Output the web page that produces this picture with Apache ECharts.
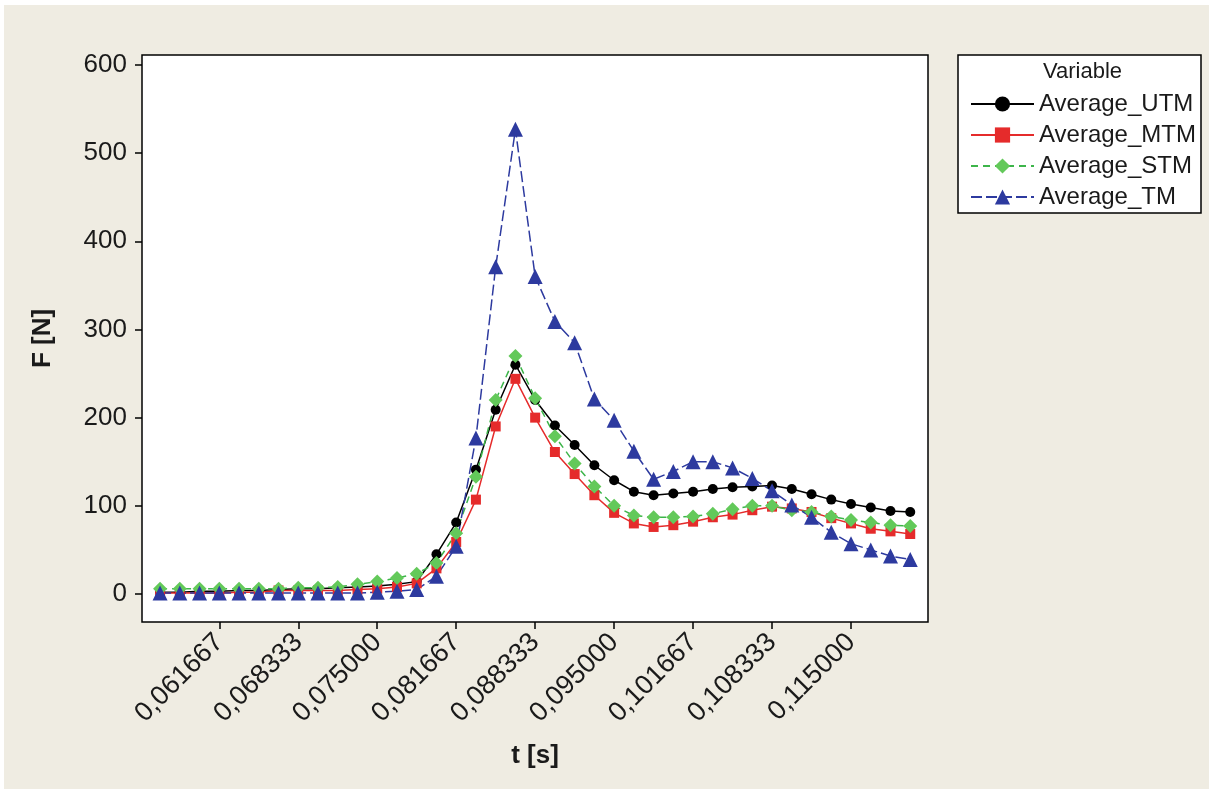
<!DOCTYPE html>
<html>
<head>
<meta charset="utf-8">
<script src="https://cdn.jsdelivr.net/npm/echarts@6/dist/echarts.min.js"></script>
<style>
  html, body { margin: 0; padding: 0; background: #ffffff; }
  #wrap { position: relative; width: 1213px; height: 793px; overflow: hidden; background: #ffffff; }
  #beige { position: absolute; left: 4px; top: 5px; width: 1205px; height: 784px; background: #EFECE2; }
  #chart { position: absolute; left: 0; top: 0; width: 1213px; height: 793px; }
</style>
</head>
<body>
<div id="wrap">
  <div id="beige"></div>
  <div id="chart"></div>
</div>
<script>
// ---- data ----
const timeS = [0.056667, 0.058333, 0.060000, 0.061667, 0.063333, 0.065000, 0.066667, 0.068333,
  0.070000, 0.071667, 0.073333, 0.075000, 0.076667, 0.078333, 0.080000, 0.081667, 0.083333,
  0.085000, 0.086667, 0.088333, 0.090000, 0.091667, 0.093333, 0.095000, 0.096667, 0.098333,
  0.100000, 0.101667, 0.103333, 0.105000, 0.106667, 0.108333, 0.110000, 0.111667, 0.113333,
  0.115000, 0.116667, 0.118333, 0.120000];

const averageUTM = [2, 2, 3, 3, 4, 4, 5, 6, 6, 7, 8, 9, 11, 14, 45, 81, 141, 209, 260, 220,
  191, 169, 146, 129, 116, 112, 114, 116, 119, 121, 122, 123, 119, 113, 107, 102, 98, 94, 93];

const averageMTM = [1, 1, 1, 1, 2, 2, 4, 4, 4, 4, 5, 6, 8, 12, 29, 59, 107, 190, 244, 200,
  161, 136, 112, 92, 80, 76, 78, 82, 87, 90, 95, 99, 97, 93, 86, 80, 74, 71, 68];

const averageSTM = [6, 6, 6, 6, 6, 6, 6, 7, 7, 8, 11, 14, 18, 23, 35, 69, 133, 220, 270, 222,
  179, 148, 122, 100, 89, 87, 87, 88, 91, 96, 100, 100, 95, 93, 88, 84, 81, 78, 77];

const averageTM = [1, 1, 1, 1, 1, 1, 1, 1, 1, 1, 1, 2, 3, 5, 20, 54, 177, 371, 527, 360,
  309, 285, 221, 197, 162, 130, 139, 150, 150, 143, 131, 117, 101, 87, 70, 57, 50, 43, 39];

const xTickValues = [0.061667, 0.068333, 0.075000, 0.081667, 0.088333, 0.095000, 0.101667, 0.108333, 0.115000];
const yTickValues = [0, 100, 200, 300, 400, 500, 600];

const seriesNames = ['Average_UTM', 'Average_MTM', 'Average_STM', 'Average_TM'];
// ------------------------------------------------

const FONT = 'Liberation Sans, Arial, sans-serif';
const pairs = arr => timeS.map((t, i) => [t, arr[i]]);

const chart = echarts.init(document.getElementById('chart'), null, { renderer: 'canvas' });

const option = {
  backgroundColor: 'transparent',
  animation: false,
  grid: {
    left: 142, right: 285, top: 55, bottom: 171,
    show: true, backgroundColor: '#ffffff', borderColor: '#000000', borderWidth: 1.5
  },
  xAxis: {
    type: 'value',
    min: 0.05514, max: 0.1215,
    name: 't [s]', nameLocation: 'middle', nameGap: 121,
    nameTextStyle: { fontFamily: FONT, fontSize: 26, fontWeight: 'bold', color: '#1a1a1a' },
    axisLine: { show: false, onZero: false },
    splitLine: { show: false },
    axisTick: { show: true, length: 7, lineStyle: { color: '#000', width: 1.5 }, customValues: xTickValues },
    axisLabel: {
      customValues: xTickValues,
      rotate: 45, margin: 16,
      fontFamily: FONT, fontSize: 27, color: '#1a1a1a',
      formatter: v => v.toFixed(6).replace('.', ',')
    }
  },
  yAxis: {
    type: 'value',
    min: -31.8, max: 611.3,
    name: 'F [N]', nameLocation: 'middle', nameGap: 86, nameRotate: 90,
    nameTextStyle: { fontFamily: FONT, fontSize: 26, fontWeight: 'bold', color: '#1a1a1a' },
    axisLine: { show: false, onZero: false },
    splitLine: { show: false },
    axisTick: { show: true, length: 7, lineStyle: { color: '#000', width: 1.5 }, customValues: yTickValues },
    axisLabel: {
      customValues: yTickValues,
      margin: 15,
      fontFamily: FONT, fontSize: 26, color: '#1a1a1a'
    }
  },
  legend: {
    orient: 'vertical',
    left: 965, top: 84,
    itemWidth: 63, itemHeight: 19, itemGap: 1,
    textStyle: { fontFamily: FONT, fontSize: 24, color: '#1a1a1a', lineHeight: 30 },
    data: seriesNames
  },
  graphic: [
    {
      type: 'rect', z: -1, silent: true,
      shape: { x: 958, y: 55, width: 243, height: 158 },
      style: { fill: '#ffffff', stroke: '#000000', lineWidth: 1.5 }
    },
    {
      type: 'text', silent: true,
      left: 1043, top: 61,
      style: { text: 'Variable', fontFamily: FONT, fontSize: 22, fill: '#1a1a1a' }
    }
  ],
  series: [
    {
      name: seriesNames[0], type: 'line', data: pairs(averageUTM),
      symbol: 'circle', symbolSize: 10,
      lineStyle: { color: '#000000', width: 1.5, type: 'solid' },
      itemStyle: { color: '#000000' }
    },
    {
      name: seriesNames[1], type: 'line', data: pairs(averageMTM),
      symbol: 'rect', symbolSize: 10,
      lineStyle: { color: '#E52B2B', width: 1.5, type: 'solid' },
      itemStyle: { color: '#E52B2B' }
    },
    {
      name: seriesNames[2], type: 'line', data: pairs(averageSTM),
      symbol: 'diamond', symbolSize: 14,
      lineStyle: { color: '#3DB54A', width: 1.5, type: [7, 5] },
      itemStyle: { color: '#63C95A' }
    },
    {
      name: seriesNames[3], type: 'line', data: pairs(averageTM),
      symbol: 'triangle', symbolSize: 15,
      lineStyle: { color: '#2D3A9F', width: 1.5, type: [11, 4] },
      itemStyle: { color: '#2D3A9F' }
    }
  ]
};

chart.setOption(option);
</script>
</body>
</html>
